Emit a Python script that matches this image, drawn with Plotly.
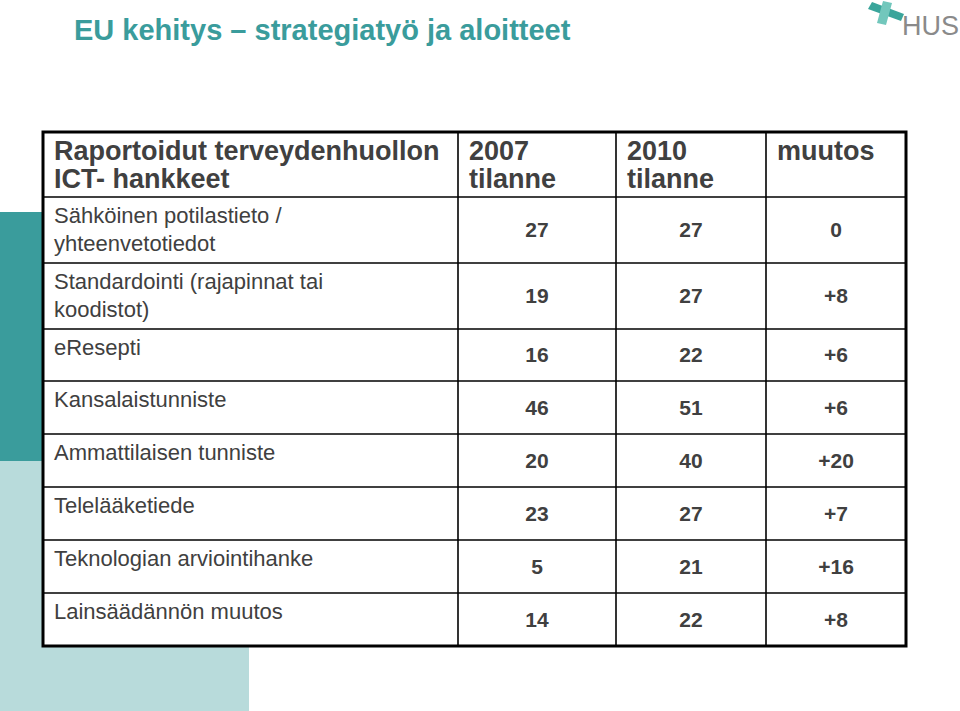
import plotly.graph_objects as go

# ---- data ----
title_text = "EU kehitys – strategiatyö ja aloitteet"
header_line1 = ["Raportoidut terveydenhuollon", "2007", "2010", "muutos"]
header_line2 = ["ICT- hankkeet", "tilanne", "tilanne", ""]
row_labels = [
    "Sähköinen potilastieto /<br>yhteenvetotiedot",
    "Standardointi (rajapinnat tai<br>koodistot)",
    "eResepti",
    "Kansalaistunniste",
    "Ammattilaisen tunniste",
    "Telelääketiede",
    "Teknologian arviointihanke",
    "Lainsäädännön muutos",
]
values_2007 = [27, 19, 16, 46, 20, 23, 5, 14]
values_2010 = [27, 27, 22, 51, 40, 27, 21, 22]
change_labels = ["0", "+8", "+6", "+6", "+20", "+7", "+16", "+8"]

# ---- layout constants (pixel coordinates) ----
W, H = 960, 711
col_edges = [43, 458, 616, 766, 906]
row_edges = [132, 197, 263, 329, 381, 434, 487, 540, 593, 646]
TXT = "#404040"
TEAL = "#3a9c9c"
LIGHT = "#b8dbdb"
FONT = "Liberation Sans, Arial, sans-serif"

fig = go.Figure()

shapes = []
# decorative blocks
shapes.append(dict(type="rect", x0=0, x1=43, y0=212, y1=461, fillcolor=TEAL, line_width=0, layer="below"))
shapes.append(dict(type="rect", x0=0, x1=249, y0=461, y1=H, fillcolor=LIGHT, line_width=0, layer="below"))
# table background
shapes.append(dict(type="rect", x0=col_edges[0], x1=col_edges[-1], y0=row_edges[0], y1=row_edges[-1],
                   fillcolor="white", line_width=0, layer="below"))
# inner lines
for y in row_edges[1:-1]:
    shapes.append(dict(type="line", x0=col_edges[0], x1=col_edges[-1], y0=y, y1=y, line=dict(color="black", width=1.6)))
for x in col_edges[1:-1]:
    shapes.append(dict(type="line", x0=x, x1=x, y0=row_edges[0], y1=row_edges[-1], line=dict(color="black", width=1.6)))
# outer border
shapes.append(dict(type="rect", x0=col_edges[0], x1=col_edges[-1], y0=row_edges[0], y1=row_edges[-1],
                   line=dict(color="black", width=3)))
# logo cross
shapes.append(dict(type="path", path="M 868 9 L 872 2 L 904 14 L 901 21 Z", fillcolor="#3aa59b", line_width=0))
shapes.append(dict(type="path", path="M 877 23 L 883 1 L 892 3 L 886 25 Z", fillcolor="#72c7bc", line_width=0))

# header texts
hdr_x = [c + 11 for c in col_edges[:-1]]
for yy, line in ((153, header_line1), (181, header_line2)):
    fig.add_trace(go.Scatter(
        x=hdr_x, y=[yy] * 4, text=line, mode="text",
        textposition="middle right", textfont=dict(family=FONT, size=27, color=TXT, weight="bold"),
        hoverinfo="skip", showlegend=False))

# row labels
fig.add_trace(go.Scatter(
    x=[col_edges[0] + 11] * len(row_labels), y=[r + 9 for r in row_edges[1:-1]], text=row_labels,
    mode="text", textposition="bottom right",
    textfont=dict(family=FONT, size=22, color=TXT), hoverinfo="skip", showlegend=False))

# numeric columns
centers_y = [(row_edges[i + 1] + row_edges[i + 2]) / 2 + 2 for i in range(len(row_labels))]
for ci, vals in enumerate([[str(v) for v in values_2007], [str(v) for v in values_2010], change_labels]):
    cx = (col_edges[ci + 1] + col_edges[ci + 2]) / 2
    fig.add_trace(go.Scatter(
        x=[cx] * len(vals), y=centers_y, text=vals, mode="text", textposition="middle center",
        textfont=dict(family=FONT, size=21, color=TXT, weight="bold"), hoverinfo="skip", showlegend=False))

# title
fig.add_trace(go.Scatter(x=[74], y=[33], text=[title_text], mode="text", textposition="middle right",
                         textfont=dict(family=FONT, size=29, color=TEAL, weight="bold"),
                         hoverinfo="skip", showlegend=False))
# logo text
fig.add_trace(go.Scatter(x=[902], y=[28], text=["HUS"], mode="text", textposition="middle right",
                         textfont=dict(family=FONT, size=27, color="#8a8a8a"),
                         hoverinfo="skip", showlegend=False))

fig.update_layout(
    width=W, height=H, margin=dict(l=0, r=0, t=0, b=0),
    paper_bgcolor="white", plot_bgcolor="white", shapes=shapes,
    xaxis=dict(range=[0, W], visible=False, fixedrange=True),
    yaxis=dict(range=[H, 0], visible=False, fixedrange=True),
)
fig.write_html("out.html", config={"displayModeBar": False},
               post_script="document.body.style.margin='0';document.body.style.overflow='hidden';")
